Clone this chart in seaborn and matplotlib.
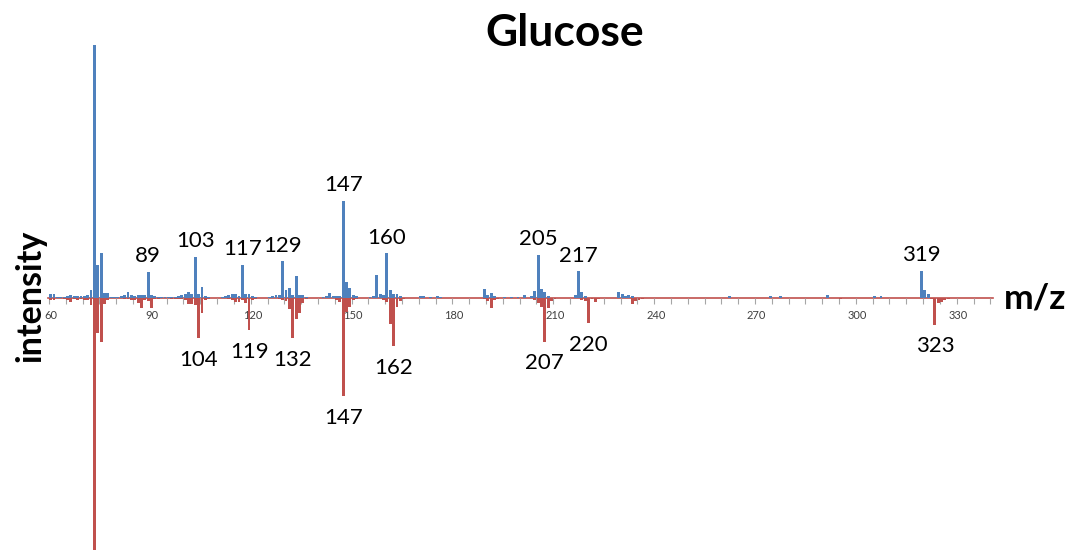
import matplotlib
matplotlib.use("Agg")
import matplotlib.pyplot as plt
import numpy as np
import pandas as pd
import seaborn as sns

# Mirror spectrum of glucose: measured (up) vs reference (down), relative intensity in %
blue_mz = [60, 61, 62, 63, 64, 65, 66, 67, 68, 69, 70, 71, 72, 73, 74, 75, 76, 77, 78, 79,
           80, 81, 82, 83, 84, 85, 86, 87, 88, 89, 90, 91, 92, 93, 94, 95, 96, 97, 98, 99,
           100, 101, 102, 103, 104, 105, 106, 107, 111, 112, 113, 114, 115, 116, 117, 118,
           119, 120, 121, 125, 126, 127, 128, 129, 130, 131, 132, 133, 134, 135, 136, 141,
           142, 143, 144, 145, 146, 147, 148, 149, 150, 151, 155, 156, 157, 158, 159, 160,
           161, 162, 163, 164, 170, 171, 173, 175, 176, 189, 190, 191, 192, 195, 197, 199,
           201, 203, 204, 205, 206, 207, 208, 216, 217, 218, 219, 229, 230, 231, 232, 233,
           262, 274, 277, 291, 305, 307, 319, 320, 321]
blue_int = [1.2, 1.2, 0.3, 0.2, 0.3, 0.5, 1.0, 0.6, 0.4, 0.6, 0.5, 0.8, 3.0, 100.0, 13.0, 17.5, 1.8, 1.8, 0.3, 0.2,
            0.3, 0.5, 1.0, 2.0, 1.0, 0.6, 0.8, 0.8, 0.8, 10.2, 0.8, 0.5, 0.3, 0.2, 0.2, 0.2, 0.3, 0.3, 0.6, 1.0,
            1.4, 2.2, 1.4, 16.2, 1.4, 4.0, 0.5, 0.3, 0.3, 0.4, 0.8, 1.5, 1.2, 0.6, 13.0, 1.3,
            1.3, 0.4, 0.3, 0.3, 0.5, 0.8, 0.8, 14.3, 3.0, 3.6, 0.8, 8.5, 1.0, 1.0, 0.3, 0.3,
            0.6, 1.6, 0.4, 0.6, 0.4, 38.3, 6.2, 3.8, 1.0, 0.4, 0.3, 0.4, 9.1, 1.5, 0.8, 17.6,
            2.9, 1.2, 1.2, 0.4, 0.4, 0.4, 0.3, 0.4, 0.3, 3.4, 1.0, 1.8, 0.4, 0.3, 0.3, 0.3,
            0.8, 0.6, 2.6, 17.0, 3.4, 2.0, 0.6, 0.8, 10.3, 2.1, 0.6, 2.1, 1.4, 0.6, 0.8, 0.4,
            0.4, 0.4, 0.4, 0.8, 0.4, 0.4, 10.5, 2.9, 1.3]

red_mz = [60, 61, 64, 65, 66, 67, 68, 69, 70, 71, 72, 73, 74, 75, 76, 77, 78, 82, 83, 84,
          85, 86, 87, 88, 89, 90, 91, 92, 96, 97, 98, 99, 100, 101, 102, 103, 104, 105, 106,
          107, 113, 114, 115, 116, 117, 118, 119, 120, 121, 128, 129, 130, 131, 132, 133,
          134, 135, 136, 145, 146, 147, 148, 149, 150, 151, 159, 160, 161, 162, 163, 164,
          165, 175, 176, 177, 178, 189, 190, 191, 192, 193, 204, 205, 206, 207, 208, 209,
          210, 218, 219, 220, 221, 222, 223, 233, 234, 235, 236, 295, 322, 323, 324, 325,
          326, 327]
red_int = [1.0, 1.0, 0.5, 0.8, 1.6, 0.4, 0.8, 0.6, 0.8, 1.0, 3.0, 100.0, 14.0, 17.5, 2.4, 0.8, 0.3, 0.4, 0.6, 0.8,
           0.8, 2.2, 4.0, 1.0, 1.5, 4.0, 0.6, 0.4, 0.4, 0.4, 0.4, 0.4, 1.0, 2.4, 2.4, 3.0, 16.0, 6.0, 1.0,
           0.4, 0.6, 1.0, 1.7, 1.7, 0.8, 2.0, 13.0, 1.0, 0.5, 0.6, 1.0, 1.2, 4.4, 16.0, 8.7,
           6.0, 2.0, 0.6, 0.8, 1.7, 39.0, 5.6, 3.7, 1.0, 0.5, 0.8, 1.7, 10.3, 19.3, 3.7, 1.5,
           0.5, 0.3, 0.3, 0.3, 0.3, 0.6, 1.2, 4.0, 1.0, 0.4, 1.0, 2.0, 3.6, 17.5, 4.0, 1.5,
           0.4, 0.8, 1.3, 10.2, 0.6, 1.8, 0.6, 2.4, 1.2, 1.0, 0.4, 0.6, 0.6, 10.7, 2.0, 1.6,
           1.0, 0.5]

blue_labels = [89, 103, 117, 129, 147, 160, 205, 217, 319]
red_labels = [104, 119, 132, 147, 162, 207, 220, 323]

x_ticks = [60, 90, 120, 150, 180, 210, 240, 270, 300, 330]

BLUE = "#4F81BD"
RED = "#C0504D"

df = pd.concat([
    pd.DataFrame({"mz": blue_mz, "value": blue_int, "series": "sample"}),
    pd.DataFrame({"mz": red_mz, "value": [-v for v in red_int], "series": "library"}),
], ignore_index=True)

sns.set_theme(style="white")
plt.rcParams["font.family"] = ["Lato", "DejaVu Sans"]
plt.rcParams["text.color"] = "black"

fig = plt.figure(figsize=(10.68, 5.5), dpi=100)
ax = fig.add_axes([48 / 1068, 0.0, (993 - 48) / 1068, (550 - 45) / 550])

sns.barplot(data=df, x="mz", y="value", hue="series", hue_order=["sample", "library"],
            palette=[BLUE, RED], native_scale=True, dodge=False, width=0.85,
            saturation=1, errorbar=None, legend=False, linewidth=0, edgecolor="none",
            ax=ax)

ax.set_xlim(59.2, 340.3)
ax.set_ylim(-100, 100)
ax.set_xlabel("")
ax.set_ylabel("")
ax.set_yticks([])

for side in ("top", "left", "right"):
    ax.spines[side].set_visible(False)
ax.spines["bottom"].set_position(("data", 0))
ax.spines["bottom"].set_color(RED)
ax.spines["bottom"].set_linewidth(1.2)
ax.spines["bottom"].set_zorder(0.5)

ax.set_xticks(x_ticks)
ax.set_xticklabels([str(t) for t in x_ticks], fontsize=8, color="#404040")
ax.set_xticks(np.arange(59.5, 340, 5), minor=True)
ax.tick_params(axis="x", which="major", length=0, pad=9)
ax.tick_params(axis="x", which="minor", length=4, width=0.8, color="#A6A6A6",
               direction="out", bottom=True)

lookup_blue = dict(zip(blue_mz, blue_int))
lookup_red = dict(zip(red_mz, red_int))
for m in blue_labels:
    ax.annotate(str(m), (m, lookup_blue[m]), xytext=(0, 4), textcoords="offset points",
                ha="center", va="bottom", fontsize=16, color="black")
for m in red_labels:
    ax.annotate(str(m), (m, -lookup_red[m]), xytext=(0, -8.5), textcoords="offset points",
                ha="center", va="top", fontsize=16, color="black")

fig.text(565 / 1068, 1 - 33 / 550, "Glucose", ha="center", va="center",
         fontsize=32, fontweight="bold", color="black")
fig.text(30 / 1068, 1 - 296 / 550, "intensity", ha="center", va="center",
         rotation=90, fontsize=24.5, fontweight="bold", color="black")
fig.text(1035 / 1068, 1 - 298 / 550, "m/z", ha="center", va="center",
         fontsize=25.5, fontweight="bold", color="black")

fig.savefig("out.png", dpi=100)
